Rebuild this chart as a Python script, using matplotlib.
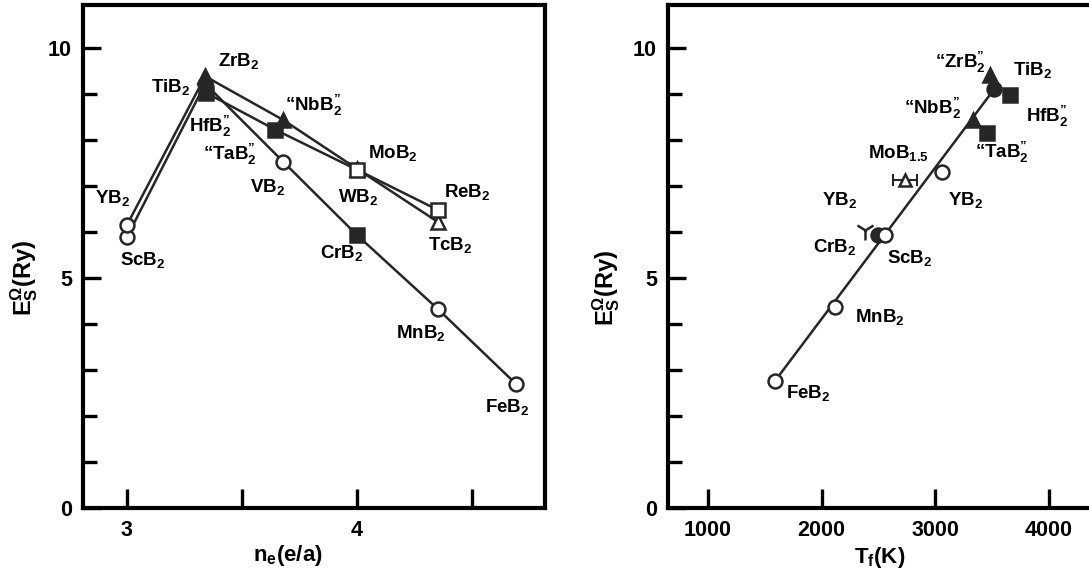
import matplotlib
matplotlib.use("Agg")
import matplotlib.pyplot as plt
import numpy as np

plt.rcParams['font.family'] = ['Liberation Sans', 'DejaVu Sans']
plt.rcParams['font.weight'] = 'bold'
plt.rcParams['mathtext.fontset'] = 'custom'
plt.rcParams['mathtext.rm'] = 'Liberation Sans:bold'
plt.rcParams['mathtext.bf'] = 'Liberation Sans:bold'
plt.rcParams['mathtext.it'] = 'Liberation Sans:bold'
plt.rcParams['mathtext.default'] = 'bf'

# ---------------- data: left panel (E vs n_e) ----------------
series3d_names = ['ScB2', 'TiB2', 'VB2', 'CrB2', 'MnB2', 'FeB2']
series3d_ne = [3.00, 3.34, 3.68, 4.00, 4.35, 4.69]
series3d_E = [5.89, 9.22, 7.52, 5.93, 4.33, 2.70]

series4d_names = ['YB2', 'ZrB2', 'NbB2', 'MoB2', 'TcB2']
series4d_ne = [3.00, 3.34, 3.68, 4.00, 4.35]
series4d_E = [6.15, 9.38, 8.43, 7.37, 6.22]

series5d_names = ['HfB2', 'TaB2', 'WB2', 'ReB2']
series5d_ne = [3.345, 3.645, 4.00, 4.35]
series5d_E = [9.02, 8.22, 7.35, 6.48]

# ---------------- data: right panel (E vs T_f) ----------------
right_names = ['ZrB2', 'TiB2', 'HfB2', 'NbB2', 'TaB2', 'MoB1.5', 'YB2r',
               'YB2l', 'CrB2', 'ScB2', 'MnB2', 'FeB2']
right_T = [3481, 3520, 3657, 3331, 3454, 2733, 3059, 2381, 2496, 2557, 2117, 1589]
right_E = [9.41, 9.11, 8.98, 8.43, 8.15, 7.13, 7.30, 6.05, 5.93, 5.93, 4.37, 2.76]
mo_T_err = 105
fit_T = [1589, 3520]
fit_E = [2.76, 9.11]

left_xticks = [3, 3.5, 4, 4.5]
left_xticklabels = ['3', '', '4', '']
right_xticks = [1000, 2000, 3000, 4000]
right_xticklabels = ['1000', '2000', '3000', '4000']
yticks_major = [0, 5, 10]
yticks_minor = [1, 2, 3, 4, 6, 7, 8, 9]

# ---------------- styles ----------------
LC = '#262626'
LW = 1.8
MS = 10
MEW = 1.8

def mk(ax, x, y, style, ms=MS, zorder=4):
    m, filled = style
    ax.plot([x], [y], linestyle='none', marker=m, markersize=ms,
            markerfacecolor=(LC if filled else 'white'),
            markeredgecolor=LC, markeredgewidth=MEW, zorder=zorder)

left_styles = {
    'ScB2': ('o', False), 'TiB2': ('o', True), 'VB2': ('o', False),
    'CrB2': ('s', True), 'MnB2': ('o', False), 'FeB2': ('o', False),
    'YB2': ('o', False), 'ZrB2': ('^', True), 'NbB2': ('^', True),
    'MoB2': ('^', False), 'TcB2': ('^', False),
    'HfB2': ('s', True), 'TaB2': ('s', True), 'WB2': ('s', False),
    'ReB2': ('s', False),
}
left_labels = {
    'ScB2': ('ScB$_2$', 16, 23), 'YB2': ('YB$_2$', -14, -27),
    'TiB2': ('TiB$_2$', -35, 3), 'ZrB2': ('ZrB$_2$', 33, -15),
    'HfB2': ('HfB$_2^{\u201d}$', 4, 34), 'NbB2': ('\u201cNbB$_2^{\u201d}$', 30, -15),
    'TaB2': ('\u201cTaB$_2^{\u201d}$', -45, 25), 'VB2': ('VB$_2$', -16, 25),
    'MoB2': ('MoB$_2$', 36, -16), 'WB2': ('WB$_2$', 1, 27),
    'CrB2': ('CrB$_2$', -15, 18), 'ReB2': ('ReB$_2$', 30, -18),
    'TcB2': ('TcB$_2$', 13, 23), 'MnB2': ('MnB$_2$', -17, 24),
    'FeB2': ('FeB$_2$', -9, 23),
}
right_styles = {
    'ZrB2': ('^', True), 'TiB2': ('o', True), 'HfB2': ('s', True),
    'NbB2': ('^', True), 'TaB2': ('s', True), 'MoB1.5': ('^', False),
    'YB2r': ('o', False), 'YB2l': ('1', False), 'CrB2': ('o', True),
    'ScB2': ('o', False), 'MnB2': ('o', False), 'FeB2': ('o', False),
}
right_labels = {
    'ZrB2': ('\u201cZrB$_2^{\u201d}$', -30, -13), 'TiB2': ('TiB$_2$', 38, -19),
    'HfB2': ('HfB$_2^{\u201d}$', 37, 22), 'NbB2': ('\u201cNbB$_2^{\u201d}$', -41, -12),
    'TaB2': ('\u201cTaB$_2^{\u201d}$', 15, 20), 'MoB1.5': ('MoB$_{1.5}$', -7, -27),
    'YB2r': ('YB$_2$', 23, 28), 'YB2l': ('YB$_2$', -25, -30),
    'CrB2': ('CrB$_2$', -43, 12), 'ScB2': ('ScB$_2$', 25, 23),
    'MnB2': ('MnB$_2$', 45, 10), 'FeB2': ('FeB$_2$', 33, 12),
}
PX = 0.72  # points per pixel at 100 dpi
LABEL_FS = 13.5
TICK_FS = 15.5
AXLAB_FS = 16

fig = plt.figure(figsize=(10.89, 5.79), dpi=100)
axL = fig.add_axes([83 / 1089, 71 / 579, 462 / 1089, 503 / 579])
axR = fig.add_axes([668 / 1089, 71 / 579, 424 / 1089, 503 / 579])

def style_axes(ax):
    for s in ax.spines.values():
        s.set_linewidth(3.0)
    ax.set_yticks(yticks_major)
    ax.set_yticks(yticks_minor, minor=True)
    ax.set_ylim(0, 10.93)
    ax.tick_params(axis='both', which='major', direction='in', length=13,
                   width=2.4, labelsize=TICK_FS, pad=8)
    ax.tick_params(axis='y', which='minor', direction='in', length=10, width=2.4)
    ax.tick_params(axis='x', which='major', length=14, pad=9)
    for lab in ax.get_yticklabels() + ax.get_xticklabels():
        lab.set_fontweight('bold')

# ---------- left ----------
for xs, ys in [(series3d_ne, series3d_E), (series4d_ne, series4d_E), (series5d_ne, series5d_E)]:
    axL.plot(xs, ys, color=LC, linewidth=LW, zorder=3)
for names, xs, ys in [(series3d_names, series3d_ne, series3d_E),
                      (series4d_names, series4d_ne, series4d_E),
                      (series5d_names, series5d_ne, series5d_E)]:
    for n, x, y in zip(names, xs, ys):
        mk(axL, x, y, left_styles[n])
        txt, dx, dy = left_labels[n]
        axL.annotate(txt, (x, y), xytext=(dx * PX, -dy * PX), textcoords='offset points',
                     ha='center', va='center', fontsize=LABEL_FS, fontweight='bold')
axL.set_xlim(2.809, 4.817)
axL.set_xticks(left_xticks)
axL.set_xticklabels(left_xticklabels)
style_axes(axL)

# ---------- right ----------
axR.plot(fit_T, fit_E, color=LC, linewidth=LW, zorder=3)
for n, x, y in zip(right_names, right_T, right_E):
    st = right_styles[n]
    if n == 'MoB1.5':
        axR.errorbar([x], [y], xerr=[mo_T_err], fmt='none', ecolor=LC,
                     elinewidth=1.5, capsize=4, capthick=1.5, zorder=3)
        mk(axR, x, y, st, ms=8)
    elif n == 'YB2l':
        mk(axR, x, y, st, ms=15)
    else:
        mk(axR, x, y, st)
    txt, dx, dy = right_labels[n]
    axR.annotate(txt, (x, y), xytext=(dx * PX, -dy * PX), textcoords='offset points',
                 ha='center', va='center', fontsize=LABEL_FS, fontweight='bold')
axR.set_xlim(648, 4378)
axR.set_xticks(right_xticks)
axR.set_xticklabels(right_xticklabels)
axR.spines['right'].set_visible(False)
style_axes(axR)

# axis labels
fig.text(288 / 1089, 1 - 555 / 579, 'n$_e$(e/a)', ha='center', va='center', fontsize=AXLAB_FS)
fig.text(880 / 1089, 1 - 558 / 579, 'T$_f$(K)', ha='center', va='center', fontsize=AXLAB_FS)
fig.text(24 / 1089, 1 - 278 / 579, 'E$_S^{\\Omega}$(Ry)', ha='center', va='center',
         rotation=90, fontsize=AXLAB_FS + 1)
fig.text(606 / 1089, 1 - 288 / 579, 'E$_S^{\\Omega}$(Ry)', ha='center', va='center',
         rotation=90, fontsize=AXLAB_FS + 1)

fig.savefig('out.png', dpi=100)
